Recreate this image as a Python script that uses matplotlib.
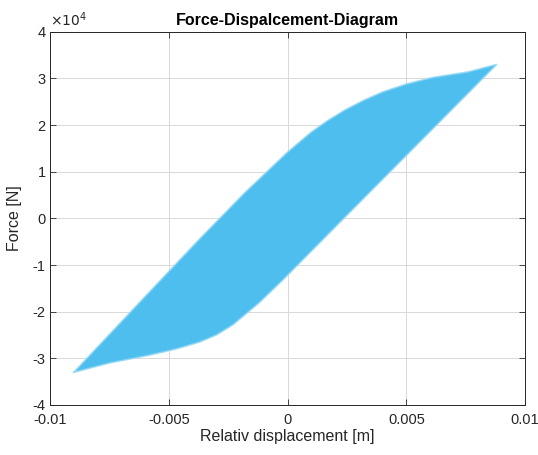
import numpy as np
import matplotlib
matplotlib.use('Agg')
import matplotlib.pyplot as plt
from matplotlib.ticker import FuncFormatter

# === Data (displacement in m, force in N) ===
# loading branch: lower-left tip -> upper-right tip
disp_up = [-0.0090, -0.0058, -0.0037, -0.0018, 0.0000, 0.0010, 0.0017,
           0.0024, 0.0032, 0.0040, 0.0050, 0.0061, 0.0076, 0.0088]
force_up = [-3.30e4, -1.57e4, -0.44e4, 0.55e4, 1.42e4, 1.85e4, 2.10e4,
            2.32e4, 2.53e4, 2.71e4, 2.88e4, 3.02e4, 3.14e4, 3.30e4]

# unloading branch: upper-right tip -> lower-left tip
disp_down = [0.0088, 0.0058, 0.0026, 0.0005, -0.0002, -0.0012, -0.0023,
             -0.0030, -0.0037, -0.0047, -0.0058, -0.0075, -0.0090]
force_down = [3.30e4, 1.76e4, 0.12e4, -0.96e4, -1.32e4, -1.81e4, -2.28e4,
              -2.50e4, -2.65e4, -2.80e4, -2.93e4, -3.10e4, -3.30e4]

x_ticks = [-0.01, -0.005, 0, 0.005, 0.01]
x_ticklabels = ['-0.01', '-0.005', '0', '0.005', '0.01']
y_ticks = [-4e4, -3e4, -2e4, -1e4, 0, 1e4, 2e4, 3e4, 4e4]

plt.rcParams['font.family'] = ['Liberation Sans', 'DejaVu Sans']
line_col = '#4DBEEE'
txt_col = '#262626'

fig = plt.figure(figsize=(5.38, 4.55), dpi=100)
ax = fig.add_axes([0.093, 0.110, 0.883, 0.820])

loop_x = disp_up + disp_down
loop_y = force_up + force_down
ax.fill(loop_x, loop_y, color=line_col, lw=0, zorder=2)
ax.plot(loop_x, loop_y, color='#8fd6f3', lw=1.2, alpha=0.8, zorder=3)

ax.set_xlim(-0.01, 0.01)
ax.set_ylim(-4e4, 4e4)
ax.set_xticks(x_ticks)
ax.set_xticklabels(x_ticklabels)
ax.set_yticks(y_ticks)
ax.yaxis.set_major_formatter(FuncFormatter(lambda v, p: '%d' % round(v / 1e4)))

ax.grid(True, color='#d9d9d9', lw=0.7, zorder=0)
ax.set_axisbelow(True)
ax.tick_params(direction='in', length=4, width=0.6, colors=txt_col,
               labelsize=10.5, top=True, right=True, pad=3)
ax.tick_params(axis='x', pad=6)
for s in ax.spines.values():
    s.set_color(txt_col)
    s.set_linewidth(0.7)

ax.set_title('Force-Dispalcement-Diagram', fontsize=11.5, fontweight='bold',
             color='black', pad=5)
ax.set_xlabel('Relativ displacement [m]', fontsize=11.5, color=txt_col, labelpad=1)
ax.set_ylabel('Force [N]', fontsize=11.5, color=txt_col, labelpad=8)
ax.text(0.0, 1.008, r'$\times10^{4}$', transform=ax.transAxes, fontsize=10,
        color=txt_col, ha='left', va='bottom')

fig.savefig('out.png', dpi=100)
